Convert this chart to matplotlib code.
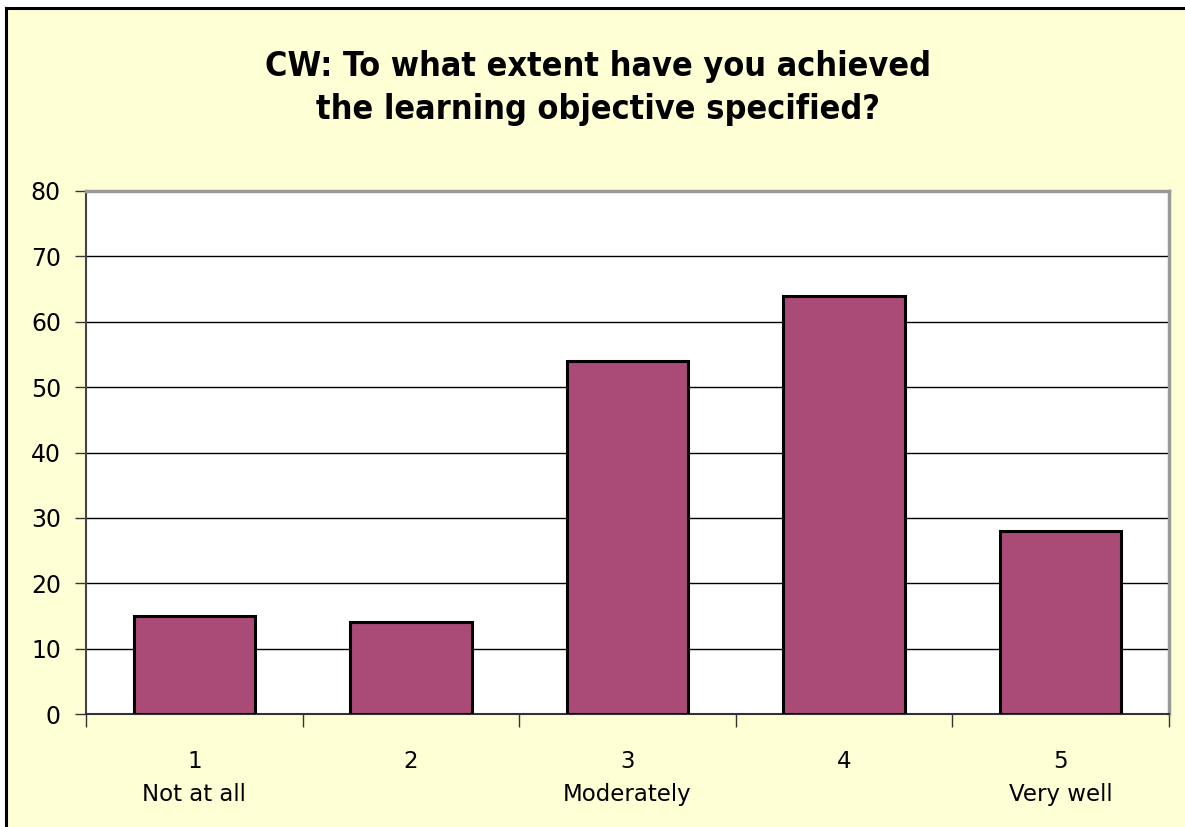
import matplotlib
matplotlib.use("Agg")
import matplotlib.pyplot as plt
from matplotlib.patches import Rectangle

categories = ["1\nNot at all", "2", "3\nModerately", "4", "5\nVery well"]
values = [15, 14, 54, 64, 28]
yticks = [0, 10, 20, 30, 40, 50, 60, 70, 80]
title = "CW: To what extent have you achieved\nthe learning objective specified?"

W, H = 1185, 827
fig = plt.figure(figsize=(W / 100, H / 100), dpi=100)
fig.patch.set_facecolor("white")

# yellow chart area with black top/left border
bg = Rectangle((6 / W, 0), 1.0, 1 - 8 / H, transform=fig.transFigure,
               facecolor="#FFFFD5", edgecolor="none", zorder=-10)
fig.add_artist(bg)
fig.add_artist(plt.Line2D([6 / W, 6 / W], [0, 1 - 8 / H], color="black", lw=2.2,
                          transform=fig.transFigure, zorder=-5))
fig.add_artist(plt.Line2D([6 / W, 1], [1 - 8 / H, 1 - 8 / H], color="black", lw=2.2,
                          transform=fig.transFigure, zorder=-5))

left, right, top, bottom = 86, 1169, 191, 714
ax = fig.add_axes([left / W, 1 - bottom / H, (right - left) / W, (bottom - top) / H])
ax.set_zorder(5)
ax.set_facecolor("white")

x = list(range(len(values)))
ax.bar(x, values, width=0.56, color="#AA4A77", edgecolor="black", linewidth=2.2, zorder=3)

ax.set_xlim(-0.5, len(values) - 0.5)
ax.set_ylim(0, 80)
ax.set_yticks(yticks)
ax.set_yticklabels([str(v) for v in yticks], fontsize=17, family="DejaVu Sans")
ax.yaxis.grid(True, color="black", linewidth=1.0, zorder=1)
ax.set_axisbelow(True)

# category ticks at boundaries, labels centered
ax.set_xticks([i + 0.5 for i in range(-1, len(values))])
ax.set_xticklabels([])
ax.set_xticks(x, minor=True)
ax.set_xticklabels(categories, minor=True, fontsize=16.5, family="DejaVu Sans",
                   linespacing=1.55)
ax.tick_params(axis="x", which="major", direction="out", length=9, width=1, color="#333333")
ax.tick_params(axis="x", which="minor", length=0, pad=26)
ax.tick_params(axis="y", direction="out", length=8, width=1, color="#333333", pad=10)

for s in ["top", "right"]:
    ax.spines[s].set_color("#999999")
    ax.spines[s].set_linewidth(2.5)
ax.spines["left"].set_color("#444444")
ax.spines["left"].set_linewidth(1.5)
ax.spines["bottom"].set_color("#333333")
ax.spines["bottom"].set_linewidth(1.5)

fig.text(598 / W, 1 - 88 / H, title, ha="center", va="center", fontsize=24.5,
         family="DejaVu Sans", fontstretch="condensed", fontweight="bold",
         linespacing=1.42)

fig.savefig("out.png", dpi=100, facecolor=fig.get_facecolor())
